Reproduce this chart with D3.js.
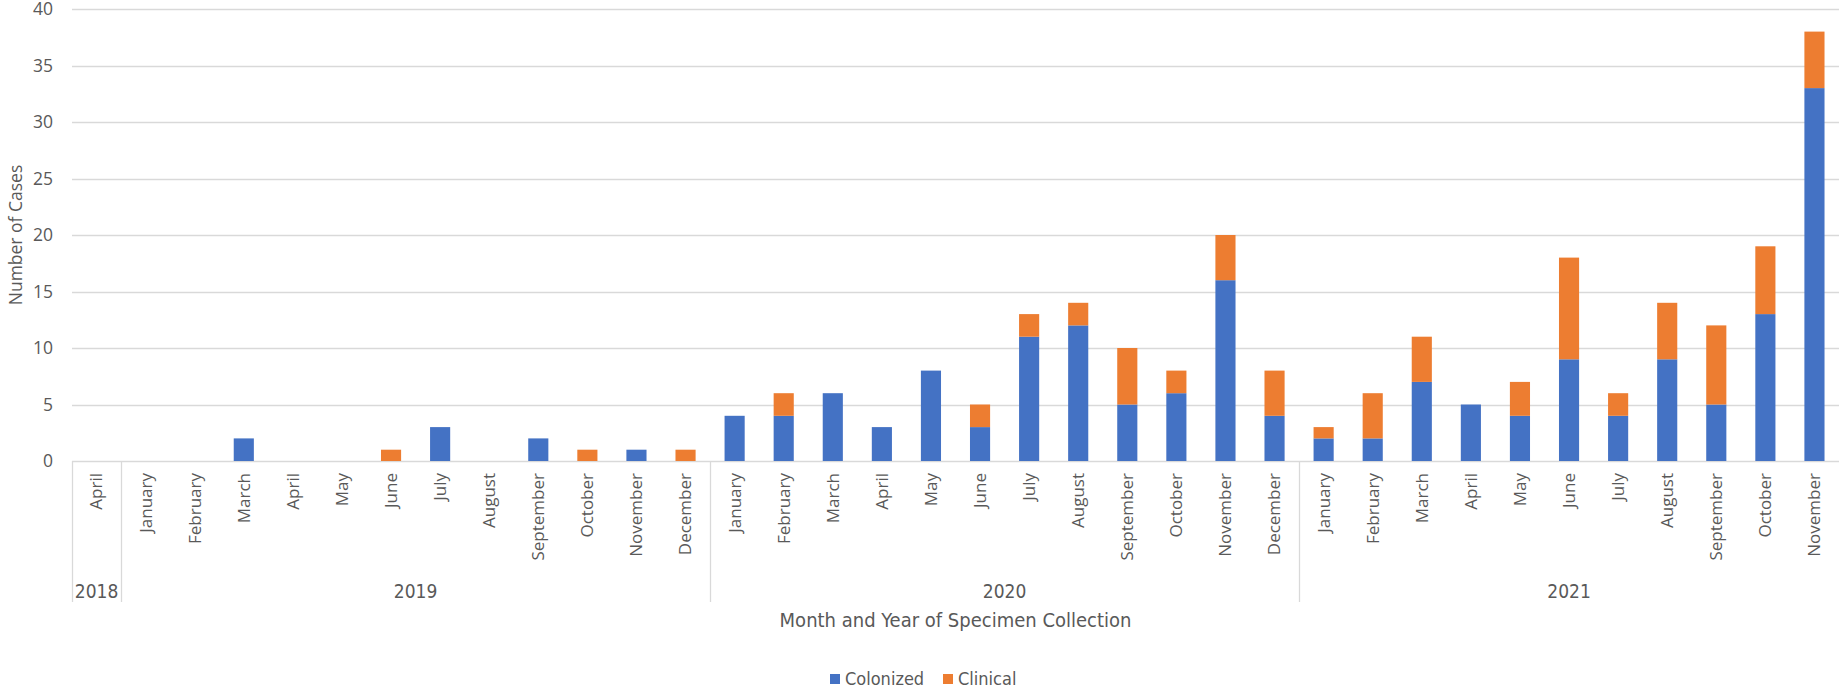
<!DOCTYPE html>
<html>
<head>
<meta charset="utf-8">
<script src="https://cdn.jsdelivr.net/npm/d3@7"></script>
<style>
  html, body { margin: 0; padding: 0; background: #fff; }
  svg { display: block; }
</style>
</head>
<body>
<svg id="chart"></svg>
<script>
// ---- data ----
const years = ["2018", "2019", "2020", "2021"];
const months = [
  ["April"],
  ["January", "February", "March", "April", "May", "June", "July", "August", "September", "October", "November", "December"],
  ["January", "February", "March", "April", "May", "June", "July", "August", "September", "October", "November", "December"],
  ["January", "February", "March", "April", "May", "June", "July", "August", "September", "October", "November"]
];
const colonized = [
  0,
  0, 0, 2, 0, 0, 0, 3, 0, 2, 0, 1, 0,
  4, 4, 6, 3, 8, 3, 11, 12, 5, 6, 16, 4,
  2, 2, 7, 5, 4, 9, 4, 9, 5, 13, 33
];
const clinical = [
  0,
  0, 0, 0, 0, 0, 1, 0, 0, 0, 1, 0, 1,
  0, 2, 0, 0, 0, 2, 2, 2, 5, 2, 4, 4,
  1, 4, 4, 0, 3, 9, 2, 5, 7, 6, 5
];
const seriesNames = ["Colonized", "Clinical"];
const seriesColors = ["#4472C4", "#ED7D31"];
const yTicks = [0, 5, 10, 15, 20, 25, 30, 35, 40];

// ---- layout ----
const width = 1839, height = 690;
const plot = { left: 72, right: 1839, top: 9, bottom: 461 };
const textColor = "#595959";
const gridColor = "#d9d9d9";

const svg = d3.select("#chart").attr("width", width).attr("height", height);

// flatten categories
const cats = [];
years.forEach((y, yi) => months[yi].forEach(m => cats.push({ year: y, month: m, key: y + "-" + m })));
const rows = cats.map((c, i) => ({ key: c.key, Colonized: colonized[i], Clinical: clinical[i] }));

const x = d3.scaleBand()
  .domain(cats.map(c => c.key))
  .range([plot.left, plot.right])
  .paddingInner(0.59)
  .paddingOuter(0.295);

const y = d3.scaleLinear().domain([0, 40]).range([plot.bottom, plot.top]);

// gridlines
svg.append("g")
  .selectAll("line")
  .data(yTicks)
  .join("line")
  .attr("x1", plot.left)
  .attr("x2", plot.right)
  .attr("y1", d => Math.round(y(d)) + 0.5)
  .attr("y2", d => Math.round(y(d)) + 0.5)
  .attr("stroke", gridColor)
  .attr("stroke-width", 1.3);

// y tick labels
svg.append("g")
  .selectAll("text")
  .data(yTicks)
  .join("text")
  .attr("x", 53)
  .attr("y", d => y(d))
  .attr("dy", "0.35em")
  .attr("text-anchor", "end")
  .attr("font-family", "'Open Sans', sans-serif")
  .attr("font-size", "17.5px")
  .attr("fill", textColor)
  .text(d => d);

// y title
svg.append("text")
  .attr("transform", `translate(16, ${(plot.top + plot.bottom) / 2}) rotate(-90)`)
  .attr("text-anchor", "middle")
  .attr("dy", "0.35em")
  .attr("font-family", "'Open Sans', sans-serif")
  .attr("font-size", "17.5px")
  .attr("fill", textColor)
  .text("Number of Cases");

// stacked bars
const stack = d3.stack().keys(seriesNames);
const stacked = stack(rows);

svg.append("g")
  .selectAll("g")
  .data(stacked)
  .join("g")
  .attr("fill", (d, i) => seriesColors[i])
  .selectAll("rect")
  .data(d => d)
  .join("rect")
  .attr("x", d => x(d.data.key))
  .attr("width", x.bandwidth())
  .attr("y", d => y(d[1]))
  .attr("height", d => y(d[0]) - y(d[1]));

// month labels
const step = x.step();
const catCenter = k => x(k) + x.bandwidth() / 2;

svg.append("g")
  .selectAll("text")
  .data(cats)
  .join("text")
  .attr("transform", d => `translate(${catCenter(d.key)}, 473) rotate(-90)`)
  .attr("text-anchor", "end")
  .attr("dy", "0.35em")
  .attr("font-family", "'Open Sans', sans-serif")
  .attr("font-size", "17px")
  .attr("fill", textColor)
  .text(d => d.month);

// year groups: separators + labels
let start = 0;
const groups = years.map((yr, yi) => {
  const g = { year: yr, first: cats[start].key, last: cats[start + months[yi].length - 1].key };
  start += months[yi].length;
  return g;
});

const sepBottom = 602;
svg.append("g")
  .selectAll("line")
  .data(groups)
  .join("line")
  .attr("x1", d => Math.round(x(d.first) - (step - x.bandwidth()) / 2) + 0.5)
  .attr("x2", d => Math.round(x(d.first) - (step - x.bandwidth()) / 2) + 0.5)
  .attr("y1", plot.bottom)
  .attr("y2", sepBottom)
  .attr("stroke", gridColor)
  .attr("stroke-width", 1.3);

svg.append("g")
  .selectAll("text")
  .data(groups)
  .join("text")
  .attr("x", d => (catCenter(d.first) + catCenter(d.last)) / 2)
  .attr("y", 591)
  .attr("dy", "0.35em")
  .attr("text-anchor", "middle")
  .attr("font-family", "'Liberation Sans Narrow', 'DejaVu Sans Condensed', sans-serif")
  .attr("font-size", "19px")
  .attr("fill", textColor)
  .text(d => d.year);

// x title
svg.append("text")
  .attr("x", (plot.left + plot.right) / 2)
  .attr("y", 620)
  .attr("dy", "0.35em")
  .attr("text-anchor", "middle")
  .attr("font-family", "'Liberation Sans Narrow', 'DejaVu Sans Condensed', sans-serif")
  .attr("font-size", "20px")
  .attr("fill", textColor)
  .text("Month and Year of Specimen Collection");

// legend
const legendItems = [
  { name: seriesNames[0], color: seriesColors[0], x: 830 },
  { name: seriesNames[1], color: seriesColors[1], x: 943 }
];
const legend = svg.append("g")
  .selectAll("g")
  .data(legendItems)
  .join("g")
  .attr("transform", d => `translate(${d.x}, 679)`);

legend.append("rect")
  .attr("x", 0)
  .attr("y", -5)
  .attr("width", 10)
  .attr("height", 10)
  .attr("fill", d => d.color);

legend.append("text")
  .attr("x", 15)
  .attr("dy", "0.35em")
  .attr("font-family", "'Liberation Sans Narrow', 'DejaVu Sans Condensed', sans-serif")
  .attr("font-size", "18px")
  .attr("fill", textColor)
  .text(d => d.name);
</script>
</body>
</html>
